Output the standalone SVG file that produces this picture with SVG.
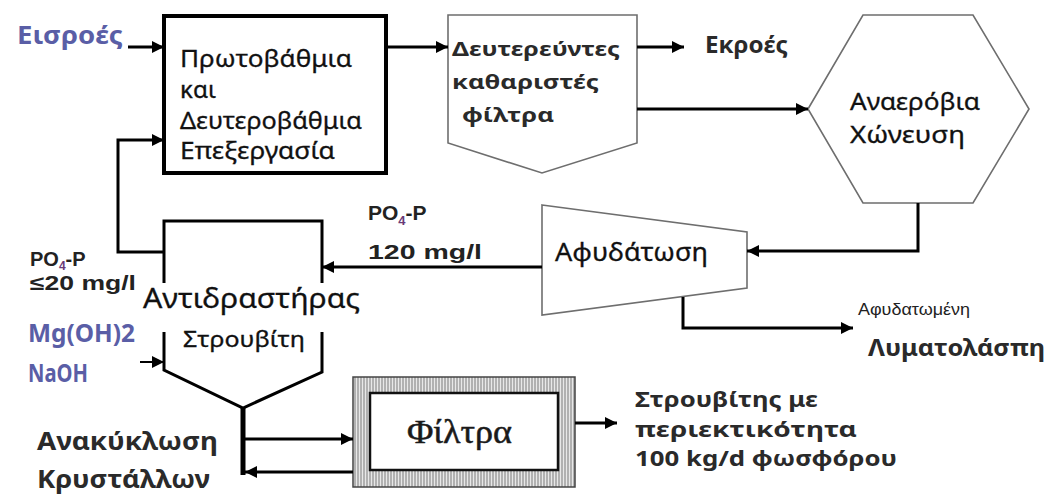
<svg xmlns="http://www.w3.org/2000/svg" width="1046" height="497" viewBox="0 0 1046 497">
<style>
.t{font-family:"Noto Sans","Open Sans",sans-serif;fill:#111;stroke:#111;stroke-width:0.3}
.b{font-family:"Liberation Sans",Arial,sans-serif;font-weight:bold;fill:#222}
.blue{font-family:"Noto Sans","Open Sans",sans-serif;font-weight:bold;fill:#5a5ea6}
.g{font-family:"Noto Sans","Open Sans",sans-serif;font-weight:bold;fill:#2a2a2a}
.shape{fill:#fff;stroke:#6e6e6e;stroke-width:1.6}
.c{fill:none;stroke:#000;stroke-width:3}
</style>
<defs>
<marker id="ah" markerUnits="userSpaceOnUse" markerWidth="14" markerHeight="12" refX="12" refY="6" orient="auto">
<path d="M0,0 L12,6 L0,12 z" fill="#000"/>
</marker>
<pattern id="hatch" patternUnits="userSpaceOnUse" width="3" height="4">
<rect width="3" height="4" fill="#e8e8e8"/>
<line x1="1" y1="0" x2="1" y2="4" stroke="#7a7a7a" stroke-width="1"/>
</pattern>
</defs>
<rect width="1046" height="497" fill="#fff"/>

<g id="inputs">
<text class="blue" x="17" y="44" font-size="25" textLength="106" lengthAdjust="spacingAndGlyphs">Εισροές</text>
</g>

<g id="primary">
<rect x="164" y="16" width="222" height="157" fill="#fff" stroke="#000" stroke-width="4"/>
<text class="t" font-size="23" x="180" y="67" textLength="172" lengthAdjust="spacingAndGlyphs">Πρωτοβάθμια</text>
<text class="t" font-size="23" x="180" y="98" textLength="36" lengthAdjust="spacingAndGlyphs">και</text>
<text class="t" font-size="23" x="180" y="129" textLength="182" lengthAdjust="spacingAndGlyphs">Δευτεροβάθμια</text>
<text class="t" font-size="23" x="180" y="159" textLength="155" lengthAdjust="spacingAndGlyphs">Επεξεργασία</text>
</g>

<g id="clarifiers">
<polygon class="shape" points="448,15 637,15 637,143 542,173 448,143"/>
<text class="g" font-size="20" x="452" y="56" textLength="168" lengthAdjust="spacingAndGlyphs">Δευτερεύντες</text>
<text class="g" font-size="20" x="452" y="89" textLength="147" lengthAdjust="spacingAndGlyphs">καθαριστές</text>
<text class="g" font-size="20" x="462" y="122" textLength="92" lengthAdjust="spacingAndGlyphs">φίλτρα</text>
</g>

<g id="effluent">
<text class="g" font-size="23" x="705" y="53" textLength="83" lengthAdjust="spacingAndGlyphs">Εκροές</text>
</g>

<g id="digestion">
<polygon class="shape" points="808,109 863,15 973,15 1029,109 973,203 863,203"/>
<text class="t" font-size="24" x="850" y="110" textLength="130" lengthAdjust="spacingAndGlyphs">Αναερόβια</text>
<text class="t" font-size="24" x="850" y="143" textLength="115" lengthAdjust="spacingAndGlyphs">Χώνευση</text>
</g>

<g id="dewatering">
<polygon class="shape" points="542,205 747,232 747,288 542,315"/>
<text class="t" font-size="25" x="555" y="261" textLength="153" lengthAdjust="spacingAndGlyphs">Αφυδάτωση</text>
</g>

<g id="sludge">
<text font-family="Liberation Sans,Arial,sans-serif" font-size="16" fill="#222" x="858" y="315" textLength="112" lengthAdjust="spacingAndGlyphs">Αφυδατωμένη</text>
<text class="g" font-size="23" x="868" y="356" textLength="177" lengthAdjust="spacingAndGlyphs">Λυματολάσπη</text>
</g>

<g id="reactor">
<path class="c" d="M164,283 V221 H322 V283 M164,332 V370 L243,408 L322,372 V332"/>
<text class="t" font-size="28" x="143" y="308" textLength="217" lengthAdjust="spacingAndGlyphs">Αντιδραστήρας</text>
<text class="t" font-size="21" x="183" y="347" textLength="122" lengthAdjust="spacingAndGlyphs">Στρουβίτη</text>
</g>

<g id="labels">
<text class="b" font-size="21" x="368" y="220">PO<tspan font-size="13" dy="5" fill="#6a3a78">4</tspan><tspan dy="-5">-P</tspan></text>
<text class="b" font-size="21" x="368" y="259" textLength="114" lengthAdjust="spacingAndGlyphs">120 mg/l</text>
<text class="b" font-size="20" x="30" y="266">PO<tspan font-size="12" dy="4" fill="#6a3a78">4</tspan><tspan dy="-4">-P</tspan></text>
<text class="b" font-size="20" x="30" y="290" textLength="106" lengthAdjust="spacingAndGlyphs">≤20 mg/l</text>
<text class="blue" font-size="25" x="28" y="342" textLength="107" lengthAdjust="spacingAndGlyphs">Mg(OH)2</text>
<text class="blue" font-size="25" x="28" y="382" textLength="60" lengthAdjust="spacingAndGlyphs">NaOH</text>
<text class="g" font-size="25" x="37" y="450" textLength="181" lengthAdjust="spacingAndGlyphs">Ανακύκλωση</text>
<text class="g" font-size="25" x="37" y="488" textLength="173" lengthAdjust="spacingAndGlyphs">Κρυστάλλων</text>
</g>

<g id="filter">
<rect x="353" y="377" width="222" height="110" fill="url(#hatch)" stroke="#444" stroke-width="1.5"/>
<rect x="370" y="393" width="188" height="77" fill="#fff" stroke="#111" stroke-width="2.5"/>
<text font-family="Liberation Serif,DejaVu Serif,serif" font-size="33" fill="#1a1a1a" stroke="#1a1a1a" stroke-width="0.5" x="407" y="443" textLength="105" lengthAdjust="spacingAndGlyphs">Φίλτρα</text>
</g>

<g id="product">
<text class="g" font-size="22" x="635" y="407" textLength="183" lengthAdjust="spacingAndGlyphs">Στρουβίτης με</text>
<text class="g" font-size="22" x="635" y="437" textLength="222" lengthAdjust="spacingAndGlyphs">περιεκτικότητα</text>
<text class="g" font-size="22" x="635" y="466" textLength="262" lengthAdjust="spacingAndGlyphs">100 kg/d φωσφόρου</text>
</g>

<g id="connectors" fill="none" stroke="#000" stroke-width="3">
<line x1="128" y1="47" x2="164" y2="47" marker-end="url(#ah)"/>
<line x1="386" y1="47" x2="448" y2="47" marker-end="url(#ah)"/>
<line x1="637" y1="47" x2="684" y2="47" marker-end="url(#ah)"/>
<line x1="637" y1="109" x2="808" y2="109" marker-end="url(#ah)"/>
<polyline points="918,203 918,251 747,251" marker-end="url(#ah)"/>
<line x1="542" y1="267" x2="322" y2="267" marker-end="url(#ah)"/>
<polyline points="683,297 683,328 853,328" marker-end="url(#ah)"/>
<polyline points="164,252 118,252 118,140 164,140" marker-end="url(#ah)"/>
<line x1="140" y1="362" x2="164" y2="362" stroke-width="2" marker-end="url(#ah)"/>
<line x1="243" y1="407" x2="243" y2="475" stroke-width="5"/>
<line x1="243" y1="439" x2="353" y2="439" marker-end="url(#ah)"/>
<line x1="353" y1="472" x2="245" y2="472" marker-end="url(#ah)"/>
<line x1="575" y1="423" x2="617" y2="423" marker-end="url(#ah)"/>
</g>
</svg>
